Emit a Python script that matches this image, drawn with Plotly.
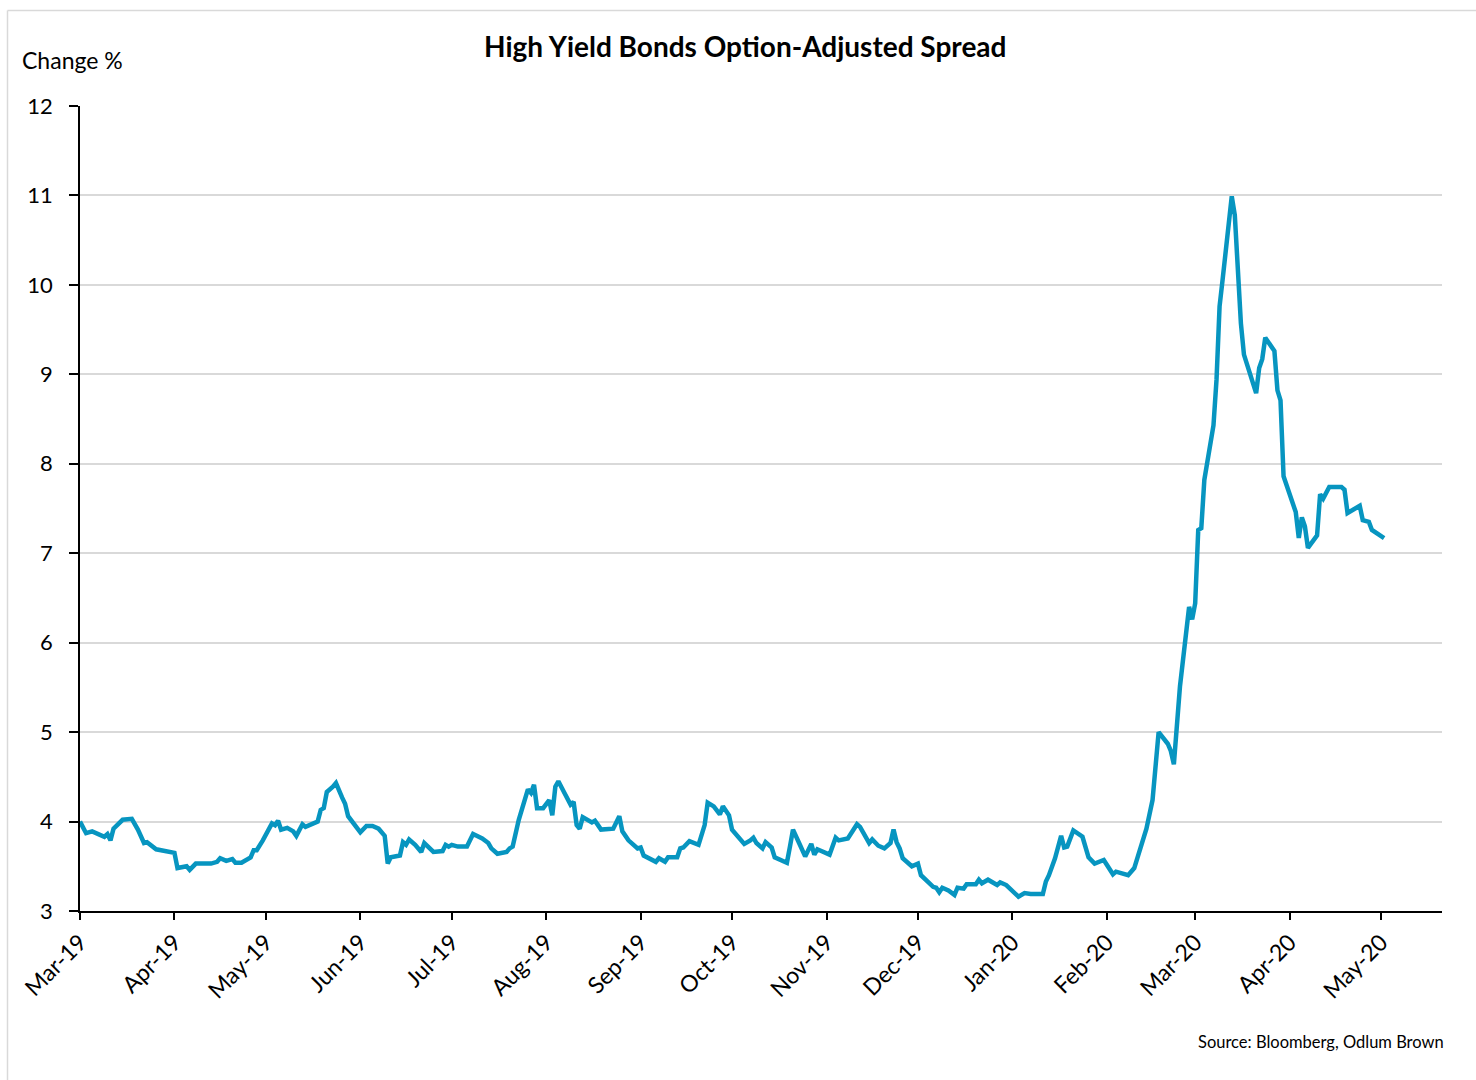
import plotly.graph_objects as go

dates = [
    "2019-03-01", "2019-03-03", "2019-03-05", "2019-03-09", "2019-03-10", "2019-03-11", "2019-03-12",
    "2019-03-15", "2019-03-18", "2019-03-20", "2019-03-22", "2019-03-23", "2019-03-26", "2019-03-30",
    "2019-04-01", "2019-04-02", "2019-04-05", "2019-04-06", "2019-04-08", "2019-04-13", "2019-04-15",
    "2019-04-16", "2019-04-18", "2019-04-20", "2019-04-21", "2019-04-23", "2019-04-26", "2019-04-27",
    "2019-04-28", "2019-04-30", "2019-05-03", "2019-05-04", "2019-05-05", "2019-05-06", "2019-05-08",
    "2019-05-10", "2019-05-11", "2019-05-13", "2019-05-14", "2019-05-18", "2019-05-19", "2019-05-20",
    "2019-05-21", "2019-05-23", "2019-05-24", "2019-05-26", "2019-05-27", "2019-05-28", "2019-05-30",
    "2019-06-01", "2019-06-03", "2019-06-05", "2019-06-07", "2019-06-08", "2019-06-09", "2019-06-10",
    "2019-06-11", "2019-06-14", "2019-06-15", "2019-06-16", "2019-06-17", "2019-06-19", "2019-06-21",
    "2019-06-22", "2019-06-25", "2019-06-28", "2019-06-29", "2019-06-30", "2019-07-01", "2019-07-03",
    "2019-07-06", "2019-07-08", "2019-07-11", "2019-07-13", "2019-07-14", "2019-07-16", "2019-07-19",
    "2019-07-20", "2019-07-21", "2019-07-23", "2019-07-26", "2019-07-27", "2019-07-28", "2019-07-29",
    "2019-07-31", "2019-08-02", "2019-08-03", "2019-08-04", "2019-08-05", "2019-08-07", "2019-08-09",
    "2019-08-10", "2019-08-11", "2019-08-12", "2019-08-13", "2019-08-16", "2019-08-17", "2019-08-18",
    "2019-08-19", "2019-08-23", "2019-08-24", "2019-08-25", "2019-08-26", "2019-08-28", "2019-08-31",
    "2019-09-01", "2019-09-02", "2019-09-04", "2019-09-06", "2019-09-07", "2019-09-09", "2019-09-10",
    "2019-09-13", "2019-09-14", "2019-09-15", "2019-09-17", "2019-09-20", "2019-09-22", "2019-09-23",
    "2019-09-25", "2019-09-27", "2019-09-28", "2019-09-30", "2019-10-01", "2019-10-03", "2019-10-05",
    "2019-10-07", "2019-10-08", "2019-10-09", "2019-10-11", "2019-10-12", "2019-10-14", "2019-10-15",
    "2019-10-19", "2019-10-20", "2019-10-21", "2019-10-23", "2019-10-25", "2019-10-27", "2019-10-28",
    "2019-10-29", "2019-11-02", "2019-11-04", "2019-11-05", "2019-11-08", "2019-11-11", "2019-11-12",
    "2019-11-15", "2019-11-16", "2019-11-18", "2019-11-20", "2019-11-22", "2019-11-23", "2019-11-24",
    "2019-11-25", "2019-11-26", "2019-11-29", "2019-12-01", "2019-12-02", "2019-12-03", "2019-12-06",
    "2019-12-07", "2019-12-08", "2019-12-09", "2019-12-11", "2019-12-13", "2019-12-14", "2019-12-16",
    "2019-12-17", "2019-12-20", "2019-12-21", "2019-12-22", "2019-12-24", "2019-12-27", "2019-12-28",
    "2019-12-30", "2020-01-01", "2020-01-03", "2020-01-05", "2020-01-07", "2020-01-11", "2020-01-12",
    "2020-01-13", "2020-01-15", "2020-01-17", "2020-01-18", "2020-01-19", "2020-01-21", "2020-01-24",
    "2020-01-26", "2020-01-28", "2020-01-31", "2020-02-03", "2020-02-04", "2020-02-08", "2020-02-10",
    "2020-02-14", "2020-02-16", "2020-02-18", "2020-02-21", "2020-02-22", "2020-02-23", "2020-02-25",
    "2020-02-28", "2020-02-29", "2020-03-01", "2020-03-02", "2020-03-03", "2020-03-04", "2020-03-06",
    "2020-03-07", "2020-03-08", "2020-03-09", "2020-03-10", "2020-03-13", "2020-03-14", "2020-03-16",
    "2020-03-17", "2020-03-19", "2020-03-21", "2020-03-22", "2020-03-23", "2020-03-24", "2020-03-27",
    "2020-03-28", "2020-03-29", "2020-03-30", "2020-04-03", "2020-04-04", "2020-04-05", "2020-04-06",
    "2020-04-07", "2020-04-10", "2020-04-11", "2020-04-12", "2020-04-14", "2020-04-18", "2020-04-19",
    "2020-04-20", "2020-04-24", "2020-04-25", "2020-04-27", "2020-04-28", "2020-04-30", "2020-05-02",
]

spread = [
    4.00, 3.87, 3.89, 3.83, 3.86, 3.79, 3.92,
    4.02, 4.03, 3.91, 3.76, 3.77, 3.69, 3.67,
    3.65, 3.48, 3.50, 3.46, 3.53, 3.53, 3.55,
    3.59, 3.56, 3.58, 3.54, 3.54, 3.60, 3.68,
    3.68, 3.79, 3.98, 3.96, 4.01, 3.91, 3.93,
    3.89, 3.84, 3.97, 3.94, 4.00, 4.13, 4.15,
    4.33, 4.39, 4.43, 4.27, 4.20, 4.06, 3.96,
    3.88, 3.95, 3.95, 3.92, 3.88, 3.84, 3.53,
    3.60, 3.62, 3.77, 3.74, 3.80, 3.74, 3.66,
    3.76, 3.66, 3.67, 3.74, 3.72, 3.74, 3.72,
    3.72, 3.86, 3.81, 3.76, 3.70, 3.64, 3.66,
    3.70, 3.72, 4.02, 4.36, 4.32, 4.41, 4.15,
    4.15, 4.24, 4.07, 4.39, 4.45, 4.32, 4.19,
    4.22, 3.96, 3.92, 4.05, 3.99, 4.01, 3.96,
    3.91, 3.92, 3.98, 4.06, 3.89, 3.79, 3.70,
    3.71, 3.62, 3.58, 3.55, 3.59, 3.55, 3.60,
    3.60, 3.70, 3.71, 3.78, 3.74, 3.96, 4.21,
    4.17, 4.08, 4.17, 4.07, 3.91, 3.83, 3.75,
    3.79, 3.82, 3.76, 3.70, 3.77, 3.71, 3.60,
    3.54, 3.72, 3.91, 3.76, 3.61, 3.75, 3.63,
    3.69, 3.63, 3.82, 3.79, 3.81, 3.97, 3.94,
    3.76, 3.80, 3.73, 3.70, 3.76, 3.91, 3.77,
    3.70, 3.59, 3.50, 3.53, 3.40, 3.37, 3.27,
    3.26, 3.21, 3.26, 3.23, 3.18, 3.26, 3.25,
    3.30, 3.30, 3.35, 3.31, 3.35, 3.29, 3.32,
    3.29, 3.23, 3.16, 3.20, 3.19, 3.19, 3.33,
    3.40, 3.59, 3.84, 3.71, 3.72, 3.90, 3.83,
    3.60, 3.53, 3.57, 3.41, 3.44, 3.40, 3.48,
    3.92, 4.24, 5.00, 4.87, 4.79, 4.64, 5.51,
    6.40, 6.26, 6.44, 7.26, 7.28, 7.82, 8.27,
    8.43, 8.94, 9.76, 10.06, 10.99, 10.78, 9.57,
    9.22, 9.02, 8.79, 9.07, 9.17, 9.41, 9.26,
    8.82, 8.71, 7.86, 7.46, 7.17, 7.40, 7.30,
    7.06, 7.20, 7.66, 7.61, 7.74, 7.74, 7.71,
    7.45, 7.53, 7.37, 7.35, 7.26, 7.22, 7.17,
]

y_ticks = [3, 4, 5, 6, 7, 8, 9, 10, 11, 12]

FONT = "Lato"

fig = go.Figure()
fig.add_trace(go.Scatter(
    x=dates, y=spread, mode="lines",
    line=dict(color="#0795C0", width=4.5),
    showlegend=False, hoverinfo="x+y",
))

fig.update_layout(
    width=1476, height=1080,
    paper_bgcolor="white", plot_bgcolor="white",
    margin=dict(l=80, r=34, t=106, b=169),
    font=dict(family=FONT, color="#000000"),
    showlegend=False,
)

fig.update_xaxes(
    type="date",
    range=["2019-03-01", "2020-05-21"],
    dtick="M1", tick0="2019-03-01", tickformat="%b-%y",
    tickangle=-45,
    ticks="outside", ticklen=7, tickwidth=1.5, tickcolor="#000000",
    showline=True, linecolor="#000000", linewidth=1.5,
    showgrid=False, zeroline=False,
    tickfont=dict(family=FONT, size=23, color="#000000"),
)

fig.update_yaxes(
    range=[3, 12], tickvals=y_ticks,
    ticks="outside", ticklen=9, tickwidth=1.5, tickcolor="#000000",
    showline=True, linecolor="#000000", linewidth=1.5,
    showgrid=True, gridcolor="#D9D9D9", gridwidth=1.5,
    zeroline=False,
    tickfont=dict(family=FONT, size=22, color="#000000"),
    ticklabelstandoff=12,
)

# Figure border (light grey), left and top
pw = 1476 - 80 - 34
ph = 1080 - 106 - 169
def px_x(v):
    return (v - 80) / pw
def px_y(v):
    return (1080 - 169 - v) / ph

fig.add_shape(type="line", xref="paper", yref="paper",
              x0=px_x(7.5), x1=px_x(1476), y0=px_y(10.5), y1=px_y(10.5),
              line=dict(color="#D9D9D9", width=1.5))
fig.add_shape(type="line", xref="paper", yref="paper",
              x0=px_x(7.5), x1=px_x(7.5), y0=px_y(10.5), y1=px_y(1080),
              line=dict(color="#D9D9D9", width=1.5))

fig.add_annotation(
    text="<b>High Yield Bonds Option-Adjusted Spread</b>",
    xref="paper", yref="paper", x=px_x(745), y=px_y(46),
    xanchor="center", yanchor="middle", showarrow=False,
    font=dict(family=FONT, size=28, color="#000000"),
)
fig.add_annotation(
    text="Change %",
    xref="paper", yref="paper", x=px_x(20), y=px_y(60),
    xanchor="left", yanchor="middle", showarrow=False,
    font=dict(family=FONT, size=23, color="#000000"),
)
fig.add_annotation(
    text="Source: Bloomberg, Odlum Brown",
    xref="paper", yref="paper", x=px_x(1446), y=px_y(1042),
    xanchor="right", yanchor="middle", showarrow=False,
    font=dict(family=FONT, size=16.5, color="#000000"),
)

fig.write_html("out.html")
